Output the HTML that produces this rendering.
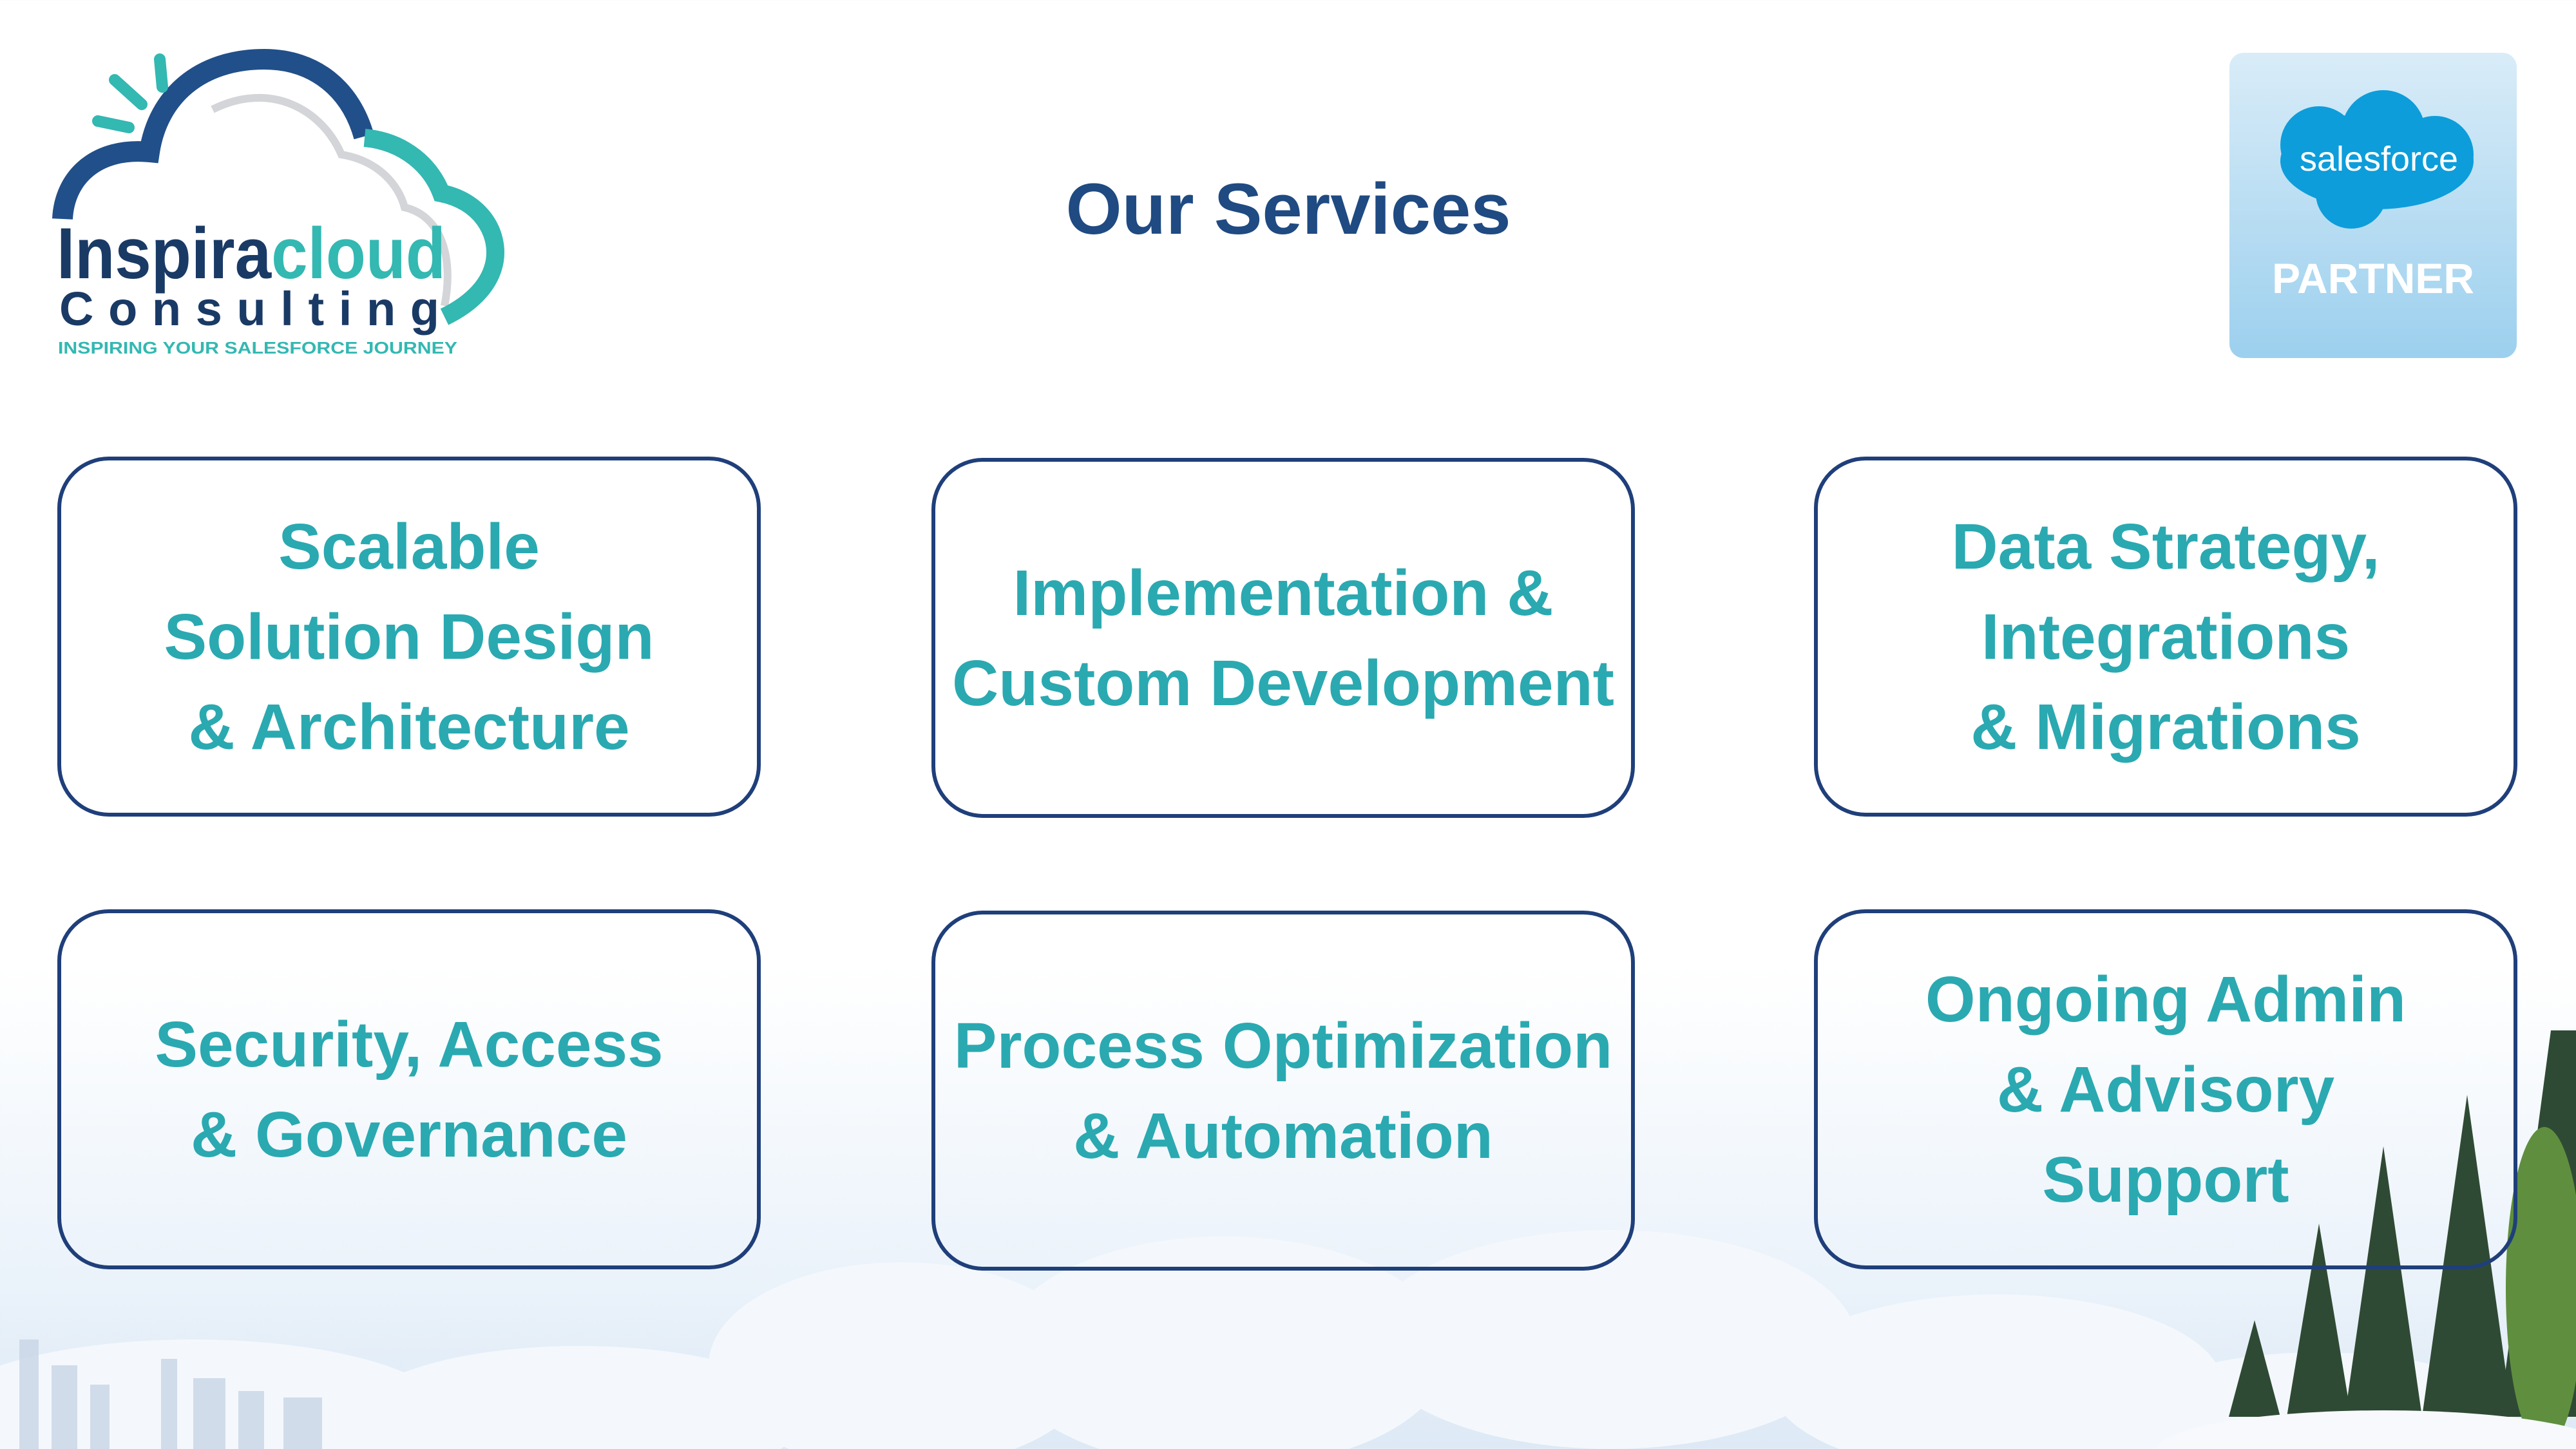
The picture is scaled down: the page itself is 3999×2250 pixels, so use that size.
<!DOCTYPE html>
<html><head><meta charset="utf-8"><style>
html,body{margin:0;padding:0}
body{width:3999px;height:2250px;position:relative;overflow:hidden;background:linear-gradient(#fff 0,#fff 1500px,#eaf2fa 2000px,#dde9f5 2250px);font-family:"Liberation Sans","DejaVu Sans",sans-serif}
.box{position:absolute;width:1092px;height:559px;border:6px solid #1f3f7a;border-radius:80px;display:flex;align-items:center;justify-content:center;text-align:center;color:#2aa9b1;font-weight:bold;font-size:100px;line-height:140px;box-sizing:border-box;background:transparent}
.title{position:absolute;left:0;width:4000px;top:260px;text-align:center;font-size:112px;font-weight:bold;color:#1f4a82}
</style></head><body>
<svg style="position:absolute;left:0;top:0" width="3999" height="2250">
<defs><linearGradient id="bg" x1="0" y1="0" x2="0" y2="1"><stop offset="0" stop-color="#d9ecf8"/><stop offset="1" stop-color="#9cd0ee"/></linearGradient></defs>
<g fill="#f4f8fc">
<ellipse cx="300" cy="2200" rx="400" ry="120"/><ellipse cx="1400" cy="2120" rx="300" ry="160"/><ellipse cx="1900" cy="2100" rx="350" ry="180"/><ellipse cx="2500" cy="2080" rx="380" ry="170"/><ellipse cx="3100" cy="2150" rx="350" ry="140"/><ellipse cx="900" cy="2200" rx="350" ry="110"/><ellipse cx="3600" cy="2200" rx="300" ry="100"/>
</g>
<g fill="#c9d6e6" opacity="0.8">
<rect x="30" y="2080" width="30" height="170"/><rect x="80" y="2120" width="40" height="130"/><rect x="140" y="2150" width="30" height="100"/><rect x="250" y="2110" width="25" height="140"/><rect x="300" y="2140" width="50" height="110"/><rect x="370" y="2160" width="40" height="90"/><rect x="440" y="2170" width="60" height="80"/>
</g>
<g fill="#2f4a34">
<polygon points="3960,1600 3999,1600 3999,2200 3880,2200"/>
<polygon points="3830,1700 3900,2200 3760,2200"/>
<polygon points="3700,1780 3760,2200 3640,2200"/>
<polygon points="3600,1900 3650,2200 3550,2200"/>
<polygon points="3500,2050 3540,2200 3460,2200"/>
</g>
<ellipse cx="3950" cy="2000" rx="60" ry="250" fill="#5f8f3e"/>
<ellipse cx="3700" cy="2250" rx="350" ry="60" fill="#f7f9fc"/>
<rect x="3461" y="82" width="446" height="474" rx="22" fill="url(#bg)"/>
<g fill="#0d9dda"><ellipse cx="3690" cy="250" rx="150" ry="75"/><circle cx="3600" cy="225" r="60"/><circle cx="3700" cy="205" r="65"/><circle cx="3780" cy="240" r="60"/><circle cx="3650" cy="300" r="55"/></g>
<text x="3693" y="265" text-anchor="middle" fill="#fff" font-size="54" font-family="Liberation Sans,sans-serif">salesforce</text>
<text x="3684" y="455" text-anchor="middle" fill="#fff" font-size="66" font-weight="bold" font-family="Liberation Sans,sans-serif">PARTNER</text>
<path d="M330 170 C420 125 500 170 530 240 C590 250 620 290 628 322 C685 335 705 400 690 475" fill="none" stroke="#d3d5d8" stroke-width="12"/>
<path d="M97 340 C100 275 150 228 232 236 C245 150 310 92 410 92 C490 92 545 140 565 212" fill="none" stroke="#214f89" stroke-width="32"/>
<path d="M566 214 C630 220 670 260 685 300 C745 312 775 360 768 405 C762 440 735 470 690 492" fill="none" stroke="#33b8b2" stroke-width="28"/>
<g stroke="#33b8b2" stroke-width="18" stroke-linecap="round"><line x1="248" y1="92" x2="252" y2="135"/><line x1="178" y1="124" x2="220" y2="162"/><line x1="152" y1="188" x2="200" y2="198"/></g>
<text x="88" y="432" font-size="112" font-weight="bold" fill="#1a3a66" font-family="Liberation Sans,sans-serif" textLength="604" lengthAdjust="spacingAndGlyphs">Inspira<tspan fill="#33b8b2">cloud</tspan></text>
<text x="92" y="505" font-size="74" font-weight="bold" fill="#1a3a66" font-family="Liberation Sans,sans-serif" textLength="590">Consulting</text>
<text x="90" y="549" font-size="26" font-weight="bold" fill="#33b8b2" font-family="Liberation Sans,sans-serif" textLength="620" lengthAdjust="spacingAndGlyphs">INSPIRING YOUR SALESFORCE JOURNEY</text>
</svg>
<div class="title">Our Services</div>
<div class="box" style="left:89px;top:709px">Scalable<br>Solution Design<br>&amp; Architecture</div>
<div class="box" style="left:1446px;top:711px">Implementation &amp;<br>Custom Development</div>
<div class="box" style="left:2816px;top:709px">Data Strategy,<br>Integrations<br>&amp; Migrations</div>
<div class="box" style="left:89px;top:1412px">Security, Access<br>&amp; Governance</div>
<div class="box" style="left:1446px;top:1414px">Process Optimization<br>&amp; Automation</div>
<div class="box" style="left:2816px;top:1412px">Ongoing Admin<br>&amp; Advisory<br>Support</div>
</body></html>
